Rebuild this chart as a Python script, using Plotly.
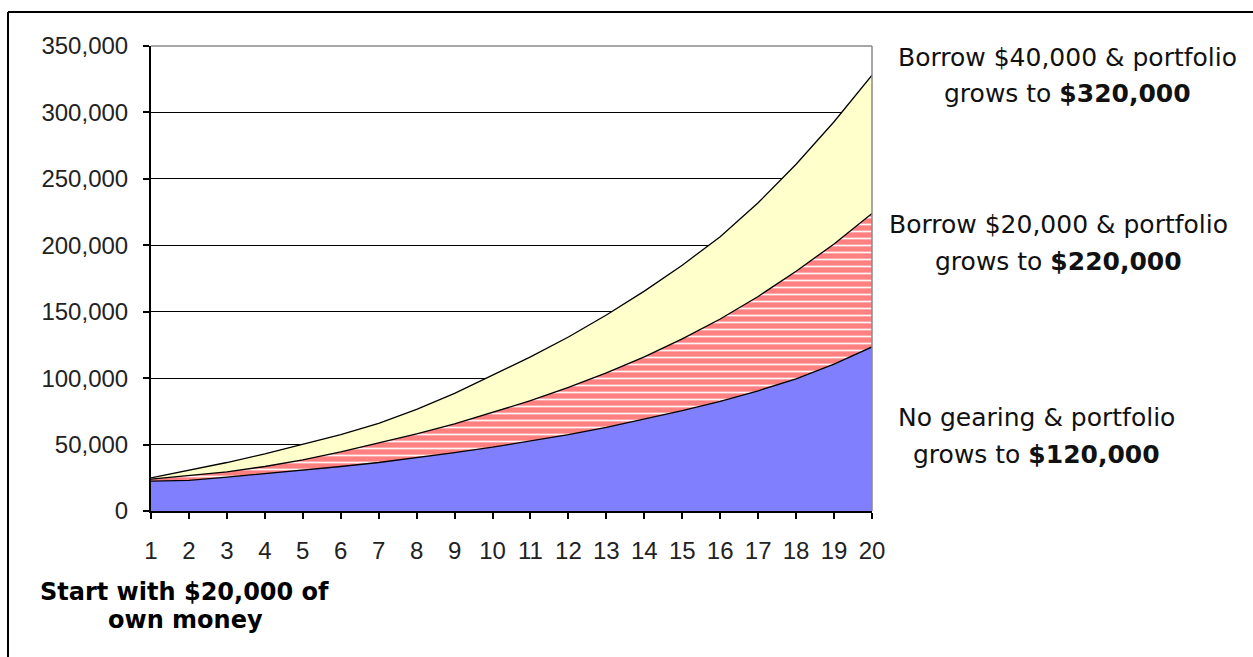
import plotly.graph_objects as go

# ---- data ----
years = list(range(1, 21))
no_gearing = [22500, 23000, 25500, 28000, 30500, 33500, 36500, 40000, 44000, 48000,
              52500, 57500, 63000, 69000, 75500, 82500, 90500, 99500, 110500, 123500]
borrow_20k = [24000, 26500, 29500, 33500, 38500, 44500, 51000, 58000, 65500, 74000,
              83000, 93000, 104000, 116000, 129500, 144500, 161500, 180500, 201000, 224000]
borrow_40k = [25000, 30500, 36500, 43000, 50000, 57500, 66000, 76500, 88500, 102000,
              116000, 131000, 147500, 165500, 185000, 206500, 232000, 261000, 293000, 328000]
y_ticks = [0, 50000, 100000, 150000, 200000, 250000, 300000, 350000]

W, H = 1253, 657
L, R, T, B = 151, 872, 46, 511  # plot-area pixel box


def px(x):
    return (x - L) / (R - L)


def py(y):
    return (B - y) / (B - T)


fig = go.Figure()
fig.add_trace(go.Scatter(x=years, y=no_gearing, mode="lines", fill="tozeroy",
                         fillcolor="#8080FF", line=dict(color="black", width=1.3),
                         hoverinfo="skip"))
fig.add_trace(go.Scatter(x=years, y=borrow_20k, mode="lines", fill="tonexty",
                         fillcolor="#FF8080",
                         fillpattern=dict(shape="-", bgcolor="#FF8080", fgcolor="#FFF4F4",
                                          size=7, solidity=0.25, fillmode="replace"),
                         line=dict(color="black", width=1.3), hoverinfo="skip"))
fig.add_trace(go.Scatter(x=years, y=borrow_40k, mode="lines", fill="tonexty",
                         fillcolor="#FFFFCC", line=dict(color="black", width=1.3),
                         hoverinfo="skip"))

tick_font = dict(family="Liberation Sans, Arial, sans-serif", size=24, color="#222")
ann_font = dict(family="DejaVu Sans, Verdana, sans-serif", size=25, color="#111")
bold_font = dict(family="DejaVu Sans, Verdana, sans-serif", size=24, color="#000")

fig.update_layout(
    width=W, height=H,
    margin=dict(l=L, r=W - R, t=T, b=H - B, pad=0),
    paper_bgcolor="white", plot_bgcolor="white",
    showlegend=False,
    xaxis=dict(range=[1, 20], tickvals=years, ticktext=[str(v) for v in years],
               showgrid=False, zeroline=False, showline=True, linecolor="black",
               linewidth=2, ticks="outside", ticklen=6, tickwidth=2, tickcolor="black",
               tickfont=tick_font, ticklabelstandoff=11, fixedrange=True),
    yaxis=dict(range=[0, 350000], tickvals=y_ticks, tickformat=",d",
               showgrid=True, gridcolor="black", gridwidth=1, zeroline=False,
               showline=True, linecolor="black", linewidth=2, ticks="outside",
               ticklen=6, tickwidth=2, tickcolor="black", tickfont=tick_font,
               ticklabelstandoff=10, fixedrange=True),
)

# plot-area border (grey top and right) and outer frame (top & left only)
fig.add_shape(type="line", xref="paper", yref="paper", x0=0, x1=1, y0=1, y1=1,
              line=dict(color="#8a8a8a", width=1.5), layer="above")
fig.add_shape(type="line", xref="paper", yref="paper", x0=1, x1=1, y0=0, y1=1,
              line=dict(color="#8a8a8a", width=1.5), layer="above")
fig.add_shape(type="line", xref="paper", yref="paper", x0=px(8), x1=px(W + 20),
              y0=py(12), y1=py(12), line=dict(color="black", width=2), layer="above")
fig.add_shape(type="line", xref="paper", yref="paper", x0=px(8), x1=px(8),
              y0=py(12), y1=py(H + 20), line=dict(color="black", width=2), layer="above")

labels = [
    ("Borrow $40,000 & portfolio", 1067, 57.7, ann_font),
    ("grows to <b>$320,000</b>", 1067, 93.7, ann_font),
    ("Borrow $20,000 & portfolio", 1058, 225, ann_font),
    ("grows to <b>$220,000</b>", 1058, 261.7, ann_font),
    ("No gearing & portfolio", 1036, 417.5, ann_font),
    ("grows to <b>$120,000</b>", 1036, 454, ann_font),
    ("<b>Start with $20,000 of</b>", 184, 591.7, bold_font),
    ("<b>own money</b>", 185, 620, bold_font),
]
for text, x, y, f in labels:
    fig.add_annotation(text=text, xref="paper", yref="paper", x=px(x), y=py(y),
                       xanchor="center", yanchor="middle", showarrow=False, font=f)

fig.write_html("out.html")
